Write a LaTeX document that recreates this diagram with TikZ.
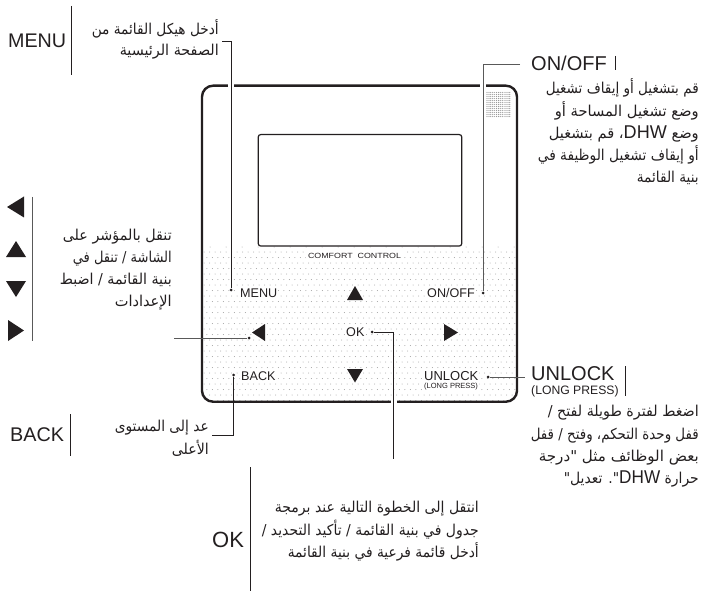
\documentclass[tikz,border=0pt]{standalone}
\usepackage{fontspec}
\usepackage{graphicx}
\setmainfont{Liberation Sans}
\newfontfamily\arabicfont[Script=Arabic]{DejaVu Sans}
\newfontfamily\latinf{Liberation Sans}
\TeXXeTstate=1
\newcommand{\arline}[2]{\resizebox{#1pt}{\height}{#2}}
\newcommand{\dhw}{\beginL{\latinf\fontsize{18.5}{18.5}\selectfont DHW}\endL}
\definecolor{ink}{HTML}{231F20}
\tikzset{
  lbl/.style={anchor=west,inner sep=0pt,text=ink,font=\fontsize{#1}{#1}\selectfont},
  plbl/.style={anchor=west,inner sep=1pt,fill=white,text=ink,font=\fontsize{#1}{#1}\selectfont},
  arblock/.style={anchor=east,inner sep=0pt,align=right,text=ink,font=\arabicfont\fontsize{15}{#1}\selectfont},
  bar/.style={draw=ink,line width=0.7pt},
  leader/.style={draw=ink,line width=0.8pt},
  gleader/.style={draw=black!65,line width=1pt},
  pin/.style={circle,fill=ink,inner sep=0pt,minimum size=3pt},
  tri/.style={fill=ink,draw=none}
}
\begin{document}
\begin{tikzpicture}[x=1pt,y=-1pt]
\useasboundingbox (0,0) rectangle (702,591);
% dotted field of the panel
\begin{scope}
\clip[rounded corners=11pt] (202,85.7) rectangle (517,401.7);
\foreach \i in {0,...,27}{
  \pgfmathsetmacro{\yy}{252+5.5*\i}
  \pgfmathsetmacro{\xo}{204+mod(\i,2)*2.75}
  \foreach \j in {0,...,56}{
    \fill[black!38] ({\xo+5.5*\j},\yy) circle (0.5pt);
  }
}
\foreach \j in {0,...,19}{
  \fill[black!35] ({210+16*\j},247) circle (0.5pt);
}
\end{scope}
% speaker grid
\foreach \i in {0,...,12}{
  \foreach \j in {0,...,12}{
    \fill[black!40] ({487+1.9*\i},{92.5+2*\j}) circle (0.6pt);
  }
}
% panel and screen
\node[draw=ink,line width=2.4pt,rounded corners=11pt,minimum width=315pt,minimum height=316pt,inner sep=0pt] (panel) at (359.5,243.7) {};
\node[draw=ink,line width=1.2pt,rounded corners=2.5pt,minimum width=203.5pt,minimum height=111.5pt,inner sep=0pt] (screen) at (360,190.3) {};
\fill[white] (227.5,83) rectangle (234,88.5);
\fill[white] (479.5,83) rectangle (485.5,88.5);
\fill[white] (390.5,399) rectangle (396.5,404.5);
\node[inner sep=2pt,fill=white,text=ink,font=\fontsize{7.5}{7.5}\selectfont] (brand) at (354.5,256) {\resizebox{93pt}{\height}{COMFORT\ \ CONTROL}};
% panel button labels
\node[plbl=12.6] (bmenu) at (239,293) {MENU};
\node[plbl=12.6] (bonoff) at (426,292.5) {ON/OFF};
\node[plbl=12.6] (bok) at (345,332) {OK};
\node[plbl=12.6] (bback) at (240,376) {BACK};
\node[plbl=13] (bunlock) at (423,376) {UNLOCK};
\node[plbl=7.5] (blong) at (423,387) {(LONG PRESS)};
% panel arrows
\fill[tri] (347,300) -- (355,286) -- (363,300) -- cycle;
\fill[tri] (347,369) -- (355,382.5) -- (363,369) -- cycle;
\fill[tri] (252,332.5) -- (265,324) -- (265,341) -- cycle;
\fill[tri] (458,332.5) -- (444,324) -- (444,341) -- cycle;
% pins
\node[pin] (pmenu) at (231,290) {};
\node[pin] (ponoff) at (483,293) {};
\node[pin] (pleft) at (249,338) {};
\node[pin] (pok) at (372,332) {};
\node[pin] (pback) at (233.5,375) {};
\node[pin] (punlock) at (488,377) {};
% big labels
\node[lbl=19.7] (tmenu) at (8,41) {MENU};
\node[lbl=20] (tonoff) at (531,63) {ON/OFF};
\node[lbl=19.8] (tback) at (10,435) {BACK};
\node[lbl=22] (tok) at (212,540) {OK};
\node[lbl=20] (tunlock) at (531,374) {UNLOCK};
\node[lbl=12.2] (tlong) at (531,391) {(LONG PRESS)};
% label bars
\coordinate (b1a) at (71,6); \coordinate (b1b) at (71,75); \draw[bar] (b1a) -- (b1b);
\coordinate (b2a) at (615,56); \coordinate (b2b) at (615,70); \draw[bar] (b2a) -- (b2b);
\coordinate (b3a) at (32,197); \coordinate (b3b) at (32,341); \draw[gleader] (b3a) -- (b3b);
\coordinate (b4a) at (70,414); \coordinate (b4b) at (70,456); \draw[bar] (b4a) -- (b4b);
\coordinate (b5a) at (250,467); \coordinate (b5b) at (250,591); \draw[bar] (b5a) -- (b5b);
\coordinate (b6a) at (625,366); \coordinate (b6b) at (625,396); \draw[bar] (b6a) -- (b6b);
% side arrows
\fill[tri] (7,207) -- (24,196.5) -- (24,217.5) -- cycle;
\fill[tri] (6,257) -- (16,241) -- (26,257) -- cycle;
\fill[tri] (6,281) -- (16,297) -- (26,281) -- cycle;
\fill[tri] (24,330.5) -- (8,320) -- (8,341) -- cycle;
% leaders
\coordinate (fmenu) at (222,41);
\coordinate (fonoff) at (520,65);
\coordinate (fleft) at (174,338);
\coordinate (fok) at (393.5,459);
\coordinate (fback) at (212,435);
\coordinate (funlock) at (525,377);
\draw[leader] (fmenu) -| (pmenu);
\draw[gleader] (fonoff) -| (ponoff);
\draw[gleader] (fleft) -- (pleft);
\draw[leader] (pok) -| (fok);
\draw[leader] (fback) -| (pback);
\draw[gleader] (punlock) -- (funlock);
% Arabic descriptions
\node[arblock=21] (amenu) at (219,39.5) {\arline{127}{\beginR أدخل هيكل القائمة من\endR}\\\arline{99}{\beginR الصفحة الرئيسية\endR}};
\node[arblock=22.3] (aonoff) at (699,132) {\arline{153}{\beginR قم بتشغيل أو إيقاف تشغيل\endR}\\\arline{144}{\beginR وضع تشغيل المساحة أو\endR}\\\arline{150}{\beginR وضع \dhw، قم بتشغيل\endR}\\\arline{161}{\beginR أو إيقاف تشغيل الوظيفة في\endR}\\\arline{62}{\beginR بنية القائمة\endR}};
\node[arblock=22] (anav) at (172,270) {\arline{109}{\beginR تنقل بالمؤشر على\endR}\\\arline{99}{\beginR الشاشة / تنقل في\endR}\\\arline{112}{\beginR بنية القائمة / اضبط\endR}\\\arline{57}{\beginR الإعدادات\endR}};
\node[arblock=23] (aback) at (209,438.5) {\arline{94}{\beginR عد إلى المستوى\endR}\\\arline{37}{\beginR الأعلى\endR}};
\node[arblock=22.5] (aok) at (479,531.5) {\arline{204}{\beginR انتقل إلى الخطوة التالية عند برمجة\endR}\\\arline{217}{\beginR جدول في بنية القائمة / تأكيد التحديد /\endR}\\\arline{191}{\beginR أدخل قائمة فرعية في بنية القائمة\endR}};
\node[arblock=22.3] (aunlock) at (699,446.5) {\arline{151}{\beginR اضغط لفترة طويلة لفتح /\endR}\\\arline{168}{\beginR قفل وحدة التحكم، وفتح / قفل\endR}\\\arline{160}{\beginR بعض الوظائف مثل "درجة\endR}\\\arline{135}{\beginR حرارة \dhw". تعديل"\endR}};
\end{tikzpicture}
\end{document}
